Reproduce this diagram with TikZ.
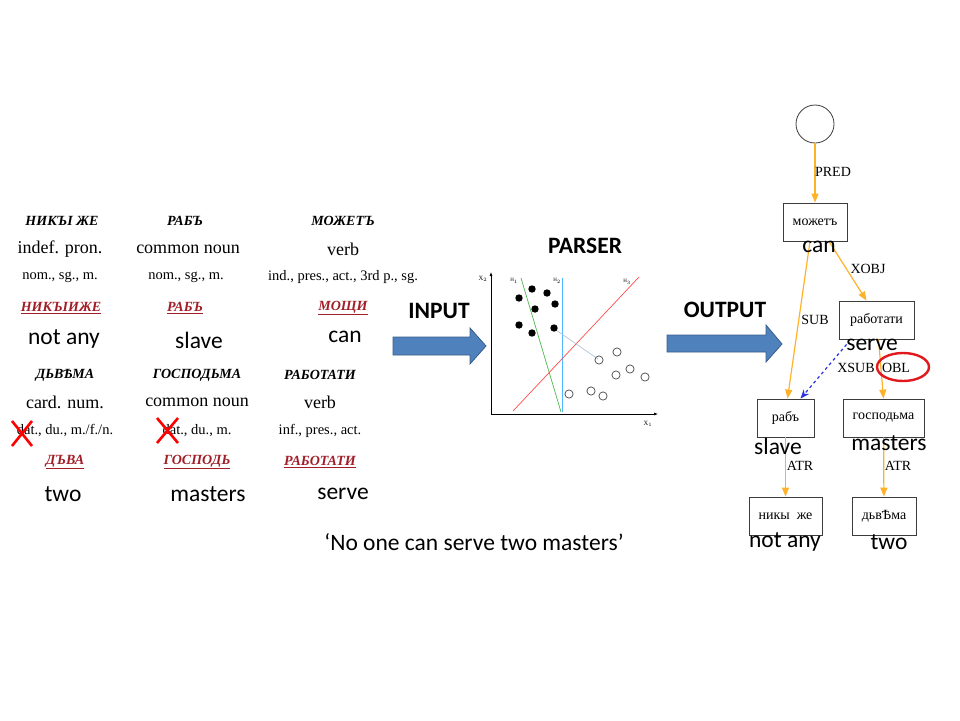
\documentclass[tikz,border=0pt]{standalone}
\usepackage{fontspec}
\setmainfont{Liberation Serif}
\newfontfamily\calfont{Carlito}
\usetikzlibrary{arrows.meta}
\definecolor{edgeor}{RGB}{255,178,40}
\definecolor{lemred}{RGB}{160,30,40}
\definecolor{arrblue}{RGB}{79,129,189}
\definecolor{arrborder}{RGB}{56,93,138}
\definecolor{xsubblue}{RGB}{40,50,225}
\definecolor{ovalred}{RGB}{225,25,30}
\definecolor{boxgrey}{RGB}{60,60,60}
\definecolor{greyline}{RGB}{176,196,216}
\newcommand{\fs}[1]{\fontsize{#1}{#1}\selectfont}
\tikzset{
  slav/.style={font=\fs{14}\bfseries\itshape},
  posline/.style={font=\fs{18}},
  morph/.style={font=\fs{14.5}},
  lem/.style={font=\fs{14}\bfseries\itshape, text=lemred},
  gloss/.style={font=\calfont\fs{23.5}},
  bigtitle/.style={font=\calfont\bfseries\fs{23.5}},
  treebox/.style={draw=boxgrey, line width=0.8pt, minimum width=64pt, minimum height=38pt, inner sep=0pt, font=\fs{14}},
  elabel/.style={font=\fs{14}, inner sep=0pt},
  oredge/.style={draw=edgeor, line width=1.2pt, -{Triangle[length=9pt,width=7pt]}},
  blockarrow/.style={fill=arrblue, draw=arrborder, line width=0.8pt},
  xmark/.style={draw=red, line width=2.6pt},
  filldot/.style={fill=black},
  opendot/.style={draw=black!65, line width=0.8pt},
}
\newcommand{\lm}[1]{\underline{#1}}
\begin{document}
\begin{tikzpicture}[x=1pt,y=-1pt]
\useasboundingbox (0,0) rectangle (960,720);

% ---------- left table ----------
\node[slav] (s11) at (62,221) {НИКЪІ ЖЕ};
\node[posline] (p11) at (60,249) {indef. pron.};
\node[morph] (m11) at (60,277) {nom., sg., m.};
\node[lem] (l11) at (61,308) {\lm{НИКЪІИЖЕ}};
\node[gloss] (g11) at (64,339) {not any};

\node[slav] (s12) at (185,221) {РАБЪ};
\node[posline] (p12) at (188,249) {common noun};
\node[morph] (m12) at (186,277) {nom., sg., m.};
\node[lem] (l12) at (185,308) {\lm{РАБЪ}};
\node[gloss] (g12) at (199,340) {slave};

\node[slav] (s13) at (343,221) {МОЖЕТЪ};
\node[posline] (p13) at (343,249) {verb};
\node[morph] (m13) at (343,277) {ind., pres., act., 3rd p., sg.};
\node[lem] (l13) at (343,308) {\lm{МОЩИ}};
\node[gloss] (g13) at (345,337) {can};

\node[slav] (s21) at (65,375) {ДЬВѢМА};
\node[posline] (p21) at (65,402) {card. num.};
\node[morph] (m21) at (65,431) {dat., du., m./f./n.};
\node[lem] (l21) at (65,462) {\lm{ДЪВА}};
\node[gloss] (g21) at (63,494) {two};

\node[slav] (s22) at (197,375) {ГОСПОДЬМА};
\node[posline] (p22) at (197,402) {common noun};
\node[morph] (m22) at (197,431) {dat., du., m.};
\node[lem] (l22) at (197,462) {\lm{ГОСПОДЬ}};
\node[gloss] (g22) at (208,494) {masters};

\node[slav] (s23) at (320,375) {РАБОТАТИ};
\node[posline] (p23) at (320,402) {verb};
\node[morph] (m23) at (320,431) {inf., pres., act.};
\node[lem] (l23) at (320,462) {\lm{РАБОТАТИ}};
\node[gloss] (g23) at (343,494) {serve};

% red crosses
\draw[xmark] (12,421) -- (32,446);
\draw[xmark] (32,421) -- (12,446);
\draw[xmark] (157,418) -- (178,443);
\draw[xmark] (178,418) -- (157,443);

% caption
\node[gloss] (cap) at (474,542) {‘No one can serve two masters’};

% ---------- input arrow ----------
\node[bigtitle] (inp) at (439,311) {INPUT};
\draw[blockarrow] (393,337) -- (470,337) -- (470,328) -- (486,346) -- (470,364) -- (470,355) -- (393,355) -- cycle;

% ---------- parser plot ----------
\node[bigtitle] (parser) at (585,246) {PARSER};
\draw[line width=0.6pt, -{Latex[length=4pt,width=3pt]}] (491,414) -- (491,272);
\draw[line width=0.6pt, -{Latex[length=4pt,width=3pt]}] (491,414) -- (658,414);
\node[font=\fs{6.5}] (x2) at (483,279) {X$_2$};
\node[font=\fs{6.5}] (x1) at (648,424) {X$_1$};
\draw[green!60!black!70, line width=0.7pt] (521,278) -- (561,412);
\draw[blue!40!cyan!70, line width=0.7pt] (562,278) -- (562,412);
\draw[red!70, line width=0.7pt] (513,411) -- (639,277);
\draw[greyline, line width=0.7pt] (556,330) -- (598,359);
\node[font=\fs{5}] (h1) at (514,281) {H$_1$};
\node[font=\fs{5}] (h2) at (557,281) {H$_2$};
\node[font=\fs{5}] (h3) at (627,282) {H$_3$};
\foreach \p in {(519,298),(532,289),(547,293),(535,309),(555,304),(519,325),(532,333),(554,328)}
  \fill[filldot] \p circle (3.7);
\foreach \p in {(617,352),(599,360),(630,369),(616,375),(645,377),(569,394),(591,391),(603,396)}
  \draw[opendot] \p circle (4.1);

% ---------- output arrow ----------
\node[bigtitle] (outp) at (725,310) {OUTPUT};
\draw[blockarrow] (667,335) -- (766,335) -- (766,325) -- (782,344) -- (766,362) -- (766,352) -- (667,352) -- cycle;

% ---------- dependency tree ----------
\node[draw=boxgrey, line width=0.8pt, circle, minimum size=38pt, inner sep=0pt] (root) at (815,124) {};
\node[treebox] (mozhet) at (815,222) {можетъ};
\node[treebox, minimum width=75pt] (rabotati) at (876.5,320) {работати};
\node[treebox, minimum width=57pt] (rab) at (785.5,418) {рабъ};
\node[treebox, minimum width=81pt] (gosp) at (883.5,418) {господьма};
\node[treebox, minimum width=73pt] (niky) at (785.5,516) {никы\ \ же};
\node[treebox] (dvema) at (884,516) {дьвѢма};

\draw[oredge] (root) -- (mozhet);
\draw[oredge] ([xshift=14pt]mozhet.south) -- ([xshift=-10pt]rabotati.north);
\draw[oredge] ([xshift=-5pt]mozhet.south) -- ([xshift=2pt]rab.north);
\draw[oredge] ([xshift=2pt]rabotati.south) -- (gosp.north);
\draw[oredge] (rab) -- (niky);
\draw[oredge] (gosp) -- (dvema);
\draw[xsubblue, line width=1.2pt, dashed, -{Stealth[length=9pt,width=7pt]}] ([shift={(8pt,-5pt)}]rabotati.south west) -- ([xshift=15pt]rab.north);

\node[elabel] (lpred) at (833,172) {PRED};
\node[elabel] (lxobj) at (868,269) {XOBJ};
\node[elabel] (lsub) at (815,320) {SUB};
\node[elabel] (lxsub) at (856,368) {XSUB};
\node[elabel] (lobl) at (896,368) {OBL};
\node[elabel] (latr1) at (800,466) {ATR};
\node[elabel] (latr2) at (898,466) {ATR};
\draw[ovalred, line width=2.4pt] ([shift={(7pt,1pt)}]lobl.center) ellipse (26pt and 14pt);

\node[gloss] (tcan) at (819,247) {can};
\node[gloss] (tserve) at (872,345) {serve};
\node[gloss] (tslave) at (778,446) {slave};
\node[gloss] (tmasters) at (889,443) {masters};
\node[gloss] (tnotany) at (785,542) {not any};
\node[gloss] (ttwo) at (889,542) {two};
\end{tikzpicture}
\end{document}
